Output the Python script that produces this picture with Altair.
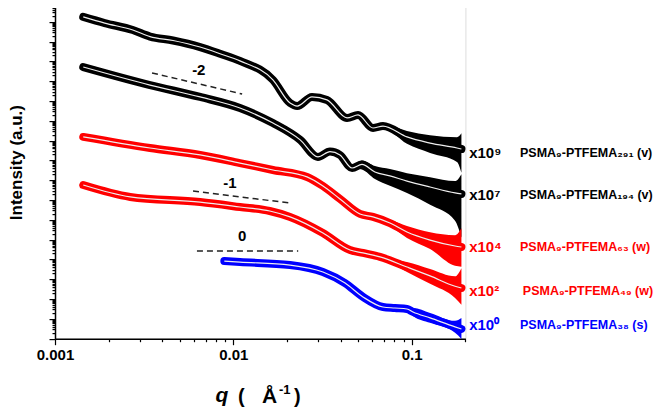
import altair as alt
import pandas as pd

FONT = "Liberation Sans, Arial, Helvetica, sans-serif"

series_ids = ["s291", "s194", "s63", "s49", "s38"]
series_colors = ["#000000", "#000000", "#ff0000", "#ff0000", "#0000ff"]
multipliers = ["x10⁹", "x10⁷", "x10⁴", "x10²", "x10⁰"]
names = ["PSMA₉-PTFEMA₂₉₁ (v)", "PSMA₉-PTFEMA₁₉₄ (v)", "PSMA₉-PTFEMA₆₃ (w)",
         "PSMA₉-PTFEMA₄₉ (w)", "PSMA₉-PTFEMA₃₈ (s)"]
label_log_i = [5.38, 3.25, 0.63, -1.59, -3.31]
mult_q = [0.21, 0.21, 0.21, 0.21, 0.21]
name_q = [0.405, 0.405, 0.405, 0.42, 0.405]

# PSMA9-PTFEMA291 (x10^9)
q_291 = [0.00144, 0.0019, 0.00273, 0.00341, 0.00459, 0.00651, 0.0085, 0.01089, 0.01667, 0.0208,
         0.0228, 0.0276, 0.0335, 0.0434, 0.050, 0.0607, 0.069, 0.0941, 0.1268, 0.1795, 0.19]
logi_291 = [12.25, 11.94, 11.59, 11.26, 11.06, 10.73, 10.38, 10.03, 9.07, 7.90,
            7.75, 8.21, 8.06, 7.15, 7.30, 6.64, 6.74, 6.19, 5.88, 5.63, 5.58]
up_291 = [0] * 16 + [0.10, 0.30, 0.40, 0.55, 0.80]
lo_291 = [0] * 16 + [0.10, 0.35, 0.50, 0.70, 1.20]

# PSMA9-PTFEMA194 (x10^7)
q_194 = [0.00144, 0.00341, 0.00651, 0.01089, 0.01667, 0.0237, 0.0298, 0.0348, 0.0396, 0.0463,
         0.0526, 0.0622, 0.0755, 0.0941, 0.1268, 0.175, 0.19]
logi_194 = [9.72, 8.81, 8.21, 7.65, 6.89, 6.04, 5.18, 5.45, 5.28, 4.62,
            4.80, 4.42, 4.22, 3.96, 3.66, 3.36, 3.31]
up_194 = [0] * 10 + [0.2, 0.3, 0.35, 0.4, 0.5, 0.6, 1.0]
lo_194 = [0] * 10 + [0.25, 0.35, 0.5, 0.6, 0.9, 1.4, 2.2]

# PSMA9-PTFEMA63 (x10^4)
q_63 = [0.00144, 0.00341, 0.00651, 0.01089, 0.01667, 0.0259, 0.0318, 0.0396, 0.0513, 0.0607,
        0.0755, 0.0941, 0.1268, 0.175, 0.19]
logi_63 = [6.19, 5.63, 5.28, 4.87, 4.52, 4.17, 3.71, 3.06, 2.30, 2.15,
           1.84, 1.39, 0.98, 0.68, 0.63]
up_63 = [0] * 10 + [0.15, 0.3, 0.4, 0.55, 0.95]
lo_63 = [0] * 10 + [0.15, 0.3, 0.45, 1.0, 1.0]

# PSMA9-PTFEMA49 (x10^2)
q_49 = [0.00144, 0.00264, 0.00651, 0.01089, 0.0160, 0.0208, 0.0318, 0.0451, 0.0533, 0.0664,
        0.0941, 0.1268, 0.175, 0.19]
logi_49 = [3.76, 3.16, 2.90, 2.65, 2.45, 2.15, 1.34, 0.48, 0.33, 0.13,
           -0.38, -0.83, -1.35, -1.44]
up_49 = [0] * 10 + [0.25, 0.35, 0.5, 1.0]
lo_49 = [0] * 10 + [0.25, 0.4, 0.6, 0.85]

# PSMA9-PTFEMA38 (x10^0)
q_38 = [0.0089, 0.01089, 0.0208, 0.0318, 0.0423, 0.0533, 0.069, 0.0805, 0.0941, 0.1017,
        0.1268, 0.175, 0.19]
logi_38 = [-0.08, -0.13, -0.28, -0.63, -1.19, -1.89, -2.40, -2.45, -2.50, -2.65,
           -2.95, -3.40, -3.51]
up_38 = [0] * 9 + [0.2, 0.25, 0.3, 0.55]
lo_38 = [0] * 9 + [0.2, 0.25, 0.3, 0.5]

# power-law guide lines
slope_ids = ["-2", "-1", "0"]
slope_q = [[0.0035, 0.0112], [0.00594, 0.0208], [0.00625, 0.0231]]
slope_logi = [[9.42, 8.36], [3.46, 2.85], [0.43, 0.43]]
slope_label_q = [0.0064, 0.00957, 0.0112]
slope_label_logi = [9.57, 3.86, 1.19]

# x-axis title pieces
xtitle_text = ["(", "Å", "-1", ")"]

x_ticks = [m * 10.0 ** e for e in (-3, -2) for m in range(1, 10)] + [0.1, 0.2]
y_ticks = [m * 10.0 ** e for e in range(-4, 13) for m in range(1, 10)] + [1e13]

# ---- build tables ----
all_q = [q_291, q_194, q_63, q_49, q_38]
all_l = [logi_291, logi_194, logi_63, logi_49, logi_38]
all_u = [up_291, up_194, up_63, up_49, up_38]
all_d = [lo_291, lo_194, lo_63, lo_49, lo_38]
rows = []
for sid, qs, ls, us, ds in zip(series_ids, all_q, all_l, all_u, all_d):
    for q, l, u, d in zip(qs, ls, us, ds):
        rows.append({"sid": sid, "q": q, "I": 10 ** l, "I_hi": 10 ** (l + u), "I_lo": 10 ** (l - d)})
curves = pd.DataFrame(rows)

slope_rows = []
for sid, qs, ls in zip(slope_ids, slope_q, slope_logi):
    for q, l in zip(qs, ls):
        slope_rows.append({"gid": sid, "q": q, "I": 10 ** l})
slopes = pd.DataFrame(slope_rows)
slope_labels = pd.DataFrame({"text": slope_ids, "q": slope_label_q,
                             "I": [10 ** v for v in slope_label_logi]})

labels = pd.DataFrame({"sid": series_ids, "mult": multipliers, "name": names,
                       "qm": mult_q, "qn": name_q, "I": [10 ** v for v in label_log_i]})

decade = "abs(log(datum.value)/LN10 - round(log(datum.value)/LN10)) < 0.001"

xscale = alt.Scale(type="log", domain=[0.001, 0.2], nice=False)
yscale = alt.Scale(type="log", domain=[1e-4, 1e13], nice=False)
cscale = alt.Scale(domain=series_ids, range=series_colors)

x_axis = alt.Axis(values=x_ticks, title=None, grid=False,
                  labelExpr=f"({decade}) ? format(datum.value, '~g') : ''",
                  tickSize={"condition": {"test": decade, "value": 6}, "value": 3},
                  labelFont=FONT, labelFontSize=15, labelFontWeight="bold", labelColor="black",
                  labelPadding=3, labelOverlap=False, labelFlush=False,
                  domainColor="black", domainWidth=1.5, tickColor="black", tickWidth=1.2)
y_axis = alt.Axis(values=y_ticks, labels=False, grid=False, title="Intensity (a.u.)",
                  tickSize={"condition": {"test": decade, "value": 6}, "value": 3},
                  titleFont=FONT, titleFontSize=17, titleFontWeight="bold", titleColor="black",
                  titleX=-30, titleY=160, titleAngle=-90, titleBaseline="bottom", titleAlign="center",
                  domainColor="black", domainWidth=1.5, tickColor="black", tickWidth=1.2)

X = alt.X("q:Q", scale=xscale, axis=x_axis)
Y = alt.Y("I:Q", scale=yscale, axis=y_axis)
C = alt.Color("sid:N", scale=cscale, legend=None)

base = alt.Chart(curves)
band = base.mark_area(interpolate="monotone").encode(x=X, y=alt.Y("I_lo:Q", scale=yscale, axis=y_axis),
                                                      y2="I_hi:Q", color=C)
thick = base.mark_line(interpolate="monotone", strokeWidth=8, strokeCap="round").encode(
    x=X, y=Y, color=C)
fit = base.mark_line(interpolate="monotone", strokeWidth=1.2, color="#eeeeee").encode(
    x=X, y=Y, detail="sid:N")

guides = alt.Chart(slopes).mark_line(color="#222222", strokeWidth=1.5, strokeDash=[6, 4]).encode(
    x=X, y=Y, detail="gid:N")
guide_text = alt.Chart(slope_labels).mark_text(font=FONT, fontSize=15, fontWeight="bold",
                                               color="black", baseline="middle").encode(
    x=X, y=Y, text="text:N")

mult_text = alt.Chart(labels).mark_text(font=FONT, fontSize=15, fontWeight="bold", align="left",
                                        baseline="middle").encode(
    x=alt.X("qm:Q", scale=xscale, axis=x_axis), y=Y, text="mult:N", color=C)
name_text = alt.Chart(labels).mark_text(font=FONT, fontSize=12.5, fontWeight="bold", align="left",
                                        baseline="middle").encode(
    x=alt.X("qn:Q", scale=xscale, axis=x_axis), y=Y, text="name:N", color=C)

qt = alt.Chart(pd.DataFrame({"t": ["q"]})).mark_text(
    font=FONT, fontSize=21, fontWeight="bold", fontStyle="italic", color="black",
    baseline="alphabetic", align="center").encode(x=alt.value(167), y=alt.value(400), text="t:N")
paren_l = alt.Chart(pd.DataFrame({"t": [xtitle_text[0]]})).mark_text(
    font=FONT, fontSize=20, fontWeight="bold", color="black",
    baseline="alphabetic", align="left").encode(x=alt.value(183), y=alt.value(401), text="t:N")
ang = alt.Chart(pd.DataFrame({"t": [xtitle_text[1]]})).mark_text(
    font=FONT, fontSize=21, fontWeight="bold", color="black",
    baseline="alphabetic", align="left").encode(x=alt.value(207), y=alt.value(401), text="t:N")
sup = alt.Chart(pd.DataFrame({"t": [xtitle_text[2]]})).mark_text(
    font=FONT, fontSize=13, fontWeight="bold", color="black",
    baseline="alphabetic", align="left").encode(x=alt.value(224), y=alt.value(392), text="t:N")
paren_r = alt.Chart(pd.DataFrame({"t": [xtitle_text[3]]})).mark_text(
    font=FONT, fontSize=20, fontWeight="bold", color="black",
    baseline="alphabetic", align="left").encode(x=alt.value(239), y=alt.value(401), text="t:N")

chart = alt.layer(band, thick, fit, guides, guide_text, mult_text, name_text,
                  qt, paren_l, ang, sup, paren_r).properties(
    width=410.4, height=336.6,
    autosize=alt.AutoSizeParams(type="none"),
    padding={"left": 47, "top": -5.9, "right": 190, "bottom": 68},
).configure_view(stroke=None).configure(background="white")

chart.save("out.html", embed_options={"renderer": "svg", "actions": False})
